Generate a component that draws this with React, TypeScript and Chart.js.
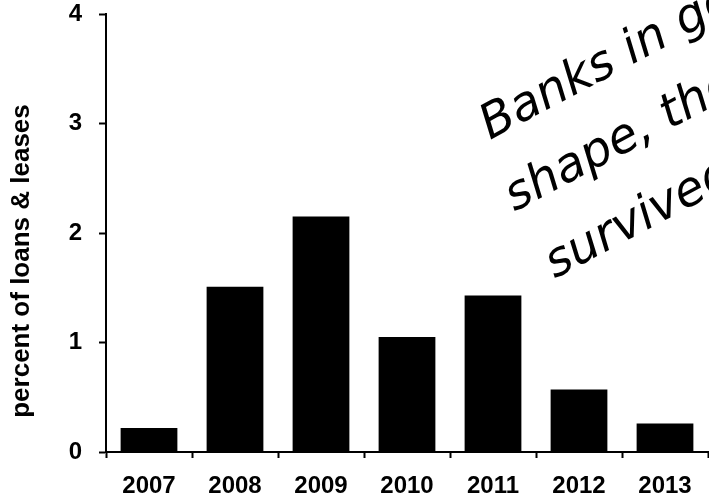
import React, { useEffect, useRef } from "react";
import { Chart, registerables } from "chart.js";

Chart.register(...registerables);

const categories = ["2007", "2008", "2009", "2010", "2011", "2012", "2013"];
const values = [0.22, 1.51, 2.15, 1.05, 1.43, 0.57, 0.26];
const yTicks = [0, 1, 2, 3, 4];
const yTitle = "percent of loans & leases";
const noteLines = ["Banks in good", "shape, they", "survived"];

const FONT = "'Liberation Sans', Arial, sans-serif";

export default function App() {
  const ref = useRef<HTMLCanvasElement>(null);

  useEffect(() => {
    if (!ref.current) return;
    const textPlugin = {
      id: "extraText",
      afterDraw(chart: any) {
        const ctx = chart.ctx as CanvasRenderingContext2D;
        // y-axis title
        ctx.save();
        ctx.fillStyle = "#000";
        ctx.font = `bold 26px ${FONT}`;
        ctx.textAlign = "center";
        ctx.textBaseline = "alphabetic";
        ctx.translate(29, 261);
        ctx.rotate(-Math.PI / 2);
        ctx.fillText(yTitle, 0, 0);
        ctx.restore();
        // handwritten note
        ctx.save();
        ctx.fillStyle = "#000";
        ctx.font = `italic 48px 'DejaVu Sans', sans-serif`;
        ctx.textAlign = "left";
        ctx.textBaseline = "alphabetic";
        ctx.translate(490, 140);
        ctx.rotate((-28 * Math.PI) / 180);
        const offs = [
          [0, 0],
          [-12, 75],
          [-8, 153],
        ];
        noteLines.forEach((t, i) => ctx.fillText(t, offs[i][0], offs[i][1]));
        ctx.restore();
      },
    };

    const chart = new Chart(ref.current, {
      type: "bar",
      data: {
        labels: categories,
        datasets: [
          {
            data: values,
            backgroundColor: "#000",
            borderWidth: 0,
            barPercentage: 0.66,
            categoryPercentage: 1,
          },
        ],
      },
      options: {
        responsive: false,
        animation: false,
        layout: { padding: { top: 14, right: 1, left: 0, bottom: 0 } },
        plugins: {
          legend: { display: false },
          tooltip: { enabled: false },
          title: { display: false },
        },
        scales: {
          x: {
            grid: {
              offset: true,
              drawOnChartArea: false,
              drawTicks: true,
              tickLength: 6,
              tickWidth: 2,
              color: "#000",
            },
            border: { display: true, color: "#000", width: 2 },
            ticks: {
              color: "#000",
              font: { family: FONT, size: 24, weight: "bold" },
              padding: 14,
              maxRotation: 0,
            },
            afterFit(scale: any) {
              scale.height = 44;
              scale.paddingLeft = 0;
              scale.paddingRight = 0;
            },
          },
          y: {
            min: 0,
            max: 4,
            afterBuildTicks(scale: any) {
              scale.ticks = yTicks.map((v) => ({ value: v }));
            },
            grid: {
              drawOnChartArea: false,
              drawTicks: true,
              tickLength: 7,
              tickWidth: 2,
              color: "#000",
            },
            border: { display: true, color: "#000", width: 2 },
            ticks: {
              color: "#000",
              font: { family: FONT, size: 24, weight: "bold" },
              padding: 17,
            },
            afterFit(scale: any) {
              scale.width = 106;
              scale.paddingTop = 0;
              scale.paddingBottom = 0;
            },
          },
        },
      },
      plugins: [textPlugin],
    });
    return () => chart.destroy();
  }, []);

  return (
    <div style={{ position: "absolute", left: 0, top: 0, width: 709, height: 496, background: "#fff" }}>
      <canvas ref={ref} width={709} height={496} style={{ display: "block" }} />
    </div>
  );
}
